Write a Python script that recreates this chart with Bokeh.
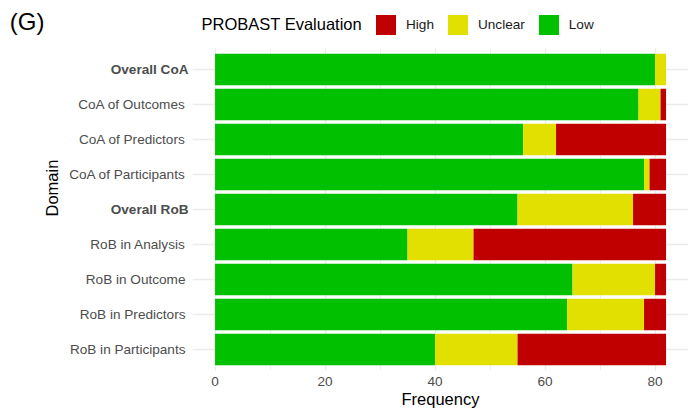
from bokeh.plotting import figure
from bokeh.models import (Range1d, FixedTicker, SingleIntervalTicker, Legend,
                          LegendItem, Title, Label, LinearAxis, Grid, ColumnDataSource)
from bokeh.embed import file_html
from bokeh.resources import INLINE

# ---- data ----
domains = ["Overall CoA", "CoA of Outcomes", "CoA of Predictors", "CoA of Participants",
           "Overall RoB", "RoB in Analysis", "RoB in Outcome", "RoB in Predictors",
           "RoB in Participants"]
low = [80, 77, 56, 78, 55, 35, 65, 64, 40]
unclear = [2, 4, 6, 1, 21, 12, 15, 14, 15]
high = [0, 1, 20, 3, 6, 35, 2, 4, 27]
bold_domains = ["Overall CoA", "Overall RoB"]
stack_levels = ["Low", "Unclear", "High"]
legend_levels = ["High", "Unclear", "Low"]
level_colors = {"High": "#C00000", "Unclear": "#E2E000", "Low": "#00C000"}
legend_title = "PROBAST Evaluation"
panel_tag = "(G)"

FONT = "Liberation Sans"
TICK_SIZE = "13.6px"
TITLE_SIZE = "16.5px"
n = len(domains)
ypos = [n - i for i in range(n)]

source = ColumnDataSource(dict(ypos=ypos, domain=domains, Low=low, Unclear=unclear, High=high))

W, H = 688, 410
LEFT, BOTTOM = 192, 40
PX_X, PX_Y = 5.5, 35.0          # pixels per data unit
X0 = -4.1
X1 = X0 + (W - LEFT) / PX_X
Y0 = 0.4                         # panel bottom (data)
Y1 = n + 0.6                     # panel top (data)
Y_TOP = Y0 + (H - BOTTOM) / PX_Y # frame reaches the top of the canvas (room for legend)

p = figure(width=W, height=H, output_backend="svg", toolbar_location=None,
           x_range=Range1d(X0, X1), y_range=Range1d(Y0, Y_TOP),
           min_border_left=LEFT, min_border_right=0, min_border_top=0,
           min_border_bottom=BOTTOM)
p.outline_line_color = None
p.background_fill_color = "white"

renderers = p.hbar_stack(stack_levels, y="ypos", height=0.9, source=source,
                         color=[level_colors[l] for l in stack_levels], line_color=None)

def style_axis(ax, size=TICK_SIZE, color="#4D4D4D"):
    ax.axis_line_color = None
    ax.major_tick_line_color = None
    ax.minor_tick_line_color = None
    ax.major_label_text_font = FONT
    ax.major_label_text_font_size = size
    ax.major_label_text_color = color

def no_ticks(ax):
    ax.major_tick_out = 0
    ax.major_tick_in = 0
    ax.minor_tick_out = 0
    ax.minor_tick_in = 0

# x axis
xax = p.xaxis[0]
xax.ticker = SingleIntervalTicker(interval=20, num_minor_ticks=2)
xax.axis_label = "Frequency"
xax.axis_label_text_font = FONT
xax.axis_label_text_font_size = TITLE_SIZE
xax.axis_label_text_font_style = "normal"
xax.axis_label_text_color = "#000000"
xax.axis_label_standoff = 1
xax.major_label_standoff = 0
style_axis(xax)

# y axis: inner axis carries the bold labels, outer axis the plain ones
bold_ax = p.yaxis[0]
bold_ax.ticker = FixedTicker(ticks=ypos)
bold_ax.major_label_overrides = {y: (d if d in bold_domains else "") for y, d in zip(ypos, domains)}
bold_ax.major_label_standoff = 4
style_axis(bold_ax)
bold_ax.major_label_text_font_style = "bold"
no_ticks(bold_ax)

plain_ax = LinearAxis(ticker=FixedTicker(ticks=ypos),
                      major_label_overrides={y: ("" if d in bold_domains else d)
                                             for y, d in zip(ypos, domains)},
                      major_label_standoff=-78)
style_axis(plain_ax)
no_ticks(plain_ax)
p.add_layout(plain_ax, "left")

# y axis title
p.add_layout(Title(text="Domain", align="left", offset=154, text_font=FONT,
                   text_font_size=TITLE_SIZE, text_font_style="normal",
                   text_color="#000000", standoff=12), "left")

# panel tag in the top-left corner
tag_y = round(Y0 + (H - BOTTOM - 21.5) / PX_Y, 2)
tag_ax = LinearAxis(ticker=FixedTicker(ticks=[tag_y]),
                    major_label_overrides={tag_y: panel_tag}, major_label_standoff=-10)
style_axis(tag_ax, size="24px", color="#000000")
no_ticks(tag_ax)
p.add_layout(tag_ax, "left")

# grid
p.xgrid.grid_line_color = "#EBEBEB"
p.xgrid.grid_line_width = 1.3
p.xgrid.minor_grid_line_color = "#EBEBEB"
p.xgrid.minor_grid_line_width = 0.8
p.ygrid.ticker = FixedTicker(ticks=ypos)
p.ygrid.grid_line_color = "#EBEBEB"
p.ygrid.grid_line_width = 1.3
if "cross_bounds" in Grid.properties():
    p.xgrid.cross_bounds = (Y0, Y1)
    p.ygrid.cross_bounds = (X0, X1)
else:
    p.quad(left=X0, right=X1, bottom=Y1, top=Y_TOP, fill_color="white", line_color=None)

# legend (top): title text + horizontal keys
legend_mid_y = Y0 + (H - BOTTOM - 23.5) / PX_Y
p.add_layout(Label(x=X0 + 9 / PX_X, y=legend_mid_y, text=legend_title,
                   text_align="left", text_baseline="middle", text_font=FONT,
                   text_font_size=TITLE_SIZE, text_color="#000000"))

items = [LegendItem(label=l, renderers=[renderers[stack_levels.index(l)]]) for l in legend_levels]
legend = Legend(items=items, orientation="horizontal",
                location=(181, 333), padding=0, margin=0,
                spacing=11, label_standoff=8, glyph_width=25, glyph_height=25,
                border_line_color=None, background_fill_alpha=0)
legend.label_text_font = FONT
legend.label_text_font_size = TICK_SIZE
legend.label_text_color = "#1A1A1A"
p.add_layout(legend, "center")

open("out.html", "w").write(file_html(p, INLINE))
